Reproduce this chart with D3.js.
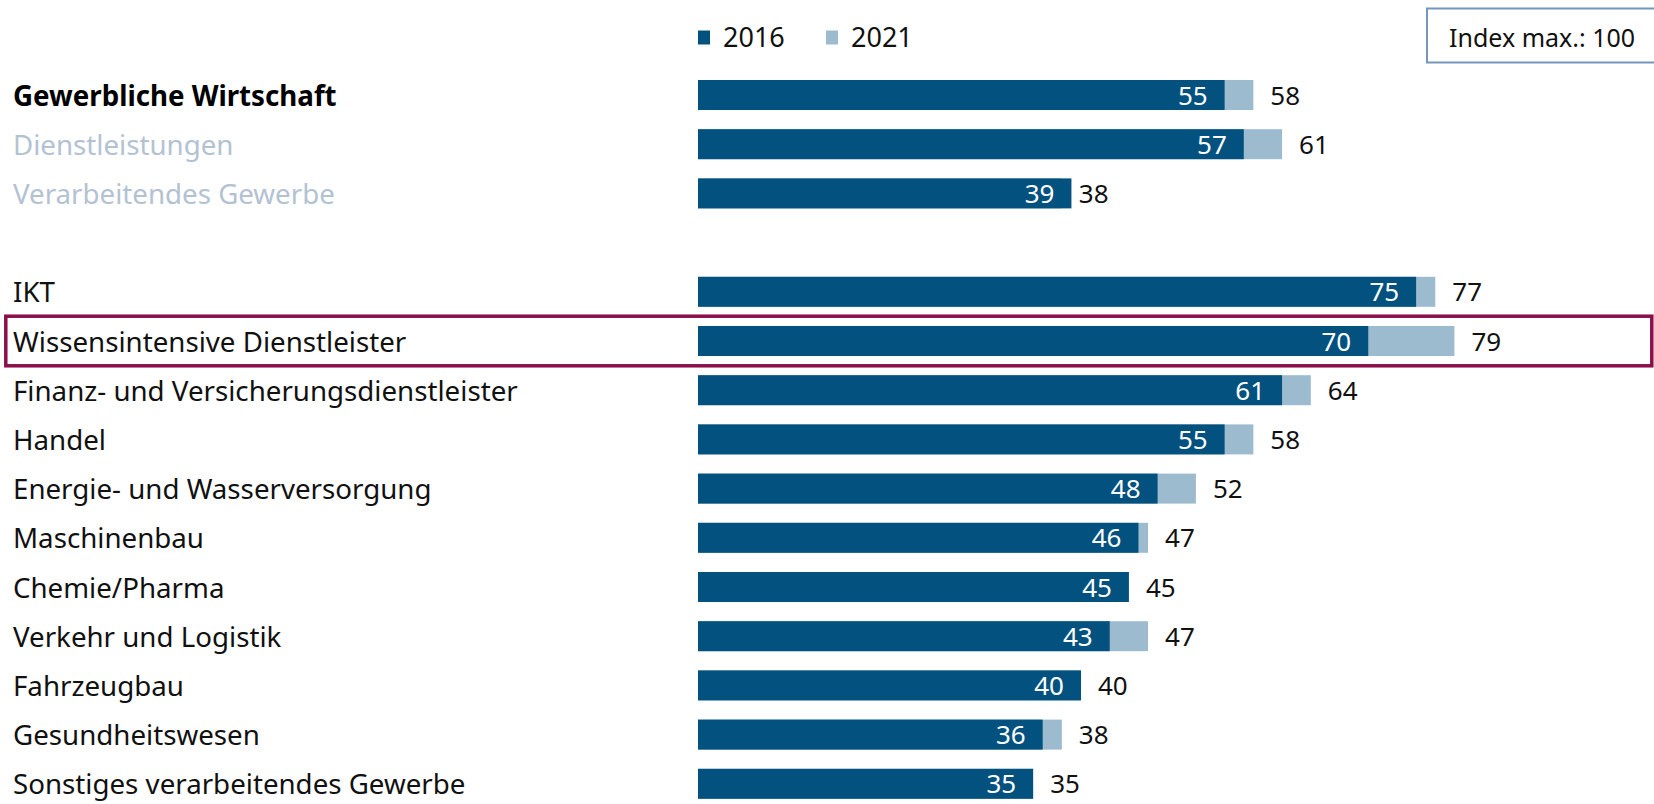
<!DOCTYPE html>
<html lang="de">
<head>
    <meta charset="UTF-8">
    <title>Index 2016 / 2021</title>
    <script src="https://d3js.org/d3.v7.min.js"></script>
    <style>
        body {
            margin: 0;
            background: #fff;
            font-family: "Noto Sans", sans-serif;
        }
        svg { display: block; }
        .row-label { font-size: 27.7px; }
        .val-in { font-size: 26px; fill: #fff; text-anchor: end; }
        .val-out { font-size: 26px; fill: #111; }
        .legend text { font-size: 27px; fill: #111; }
    </style>
</head>
<body>
<div id="chart"></div>
<script>
    const width = 1654;
    const height = 804;

    // Daten
    const categories = [
        "Gewerbliche Wirtschaft", "Dienstleistungen", "Verarbeitendes Gewerbe", "",
        "IKT", "Wissensintensive Dienstleister", "Finanz- und Versicherungsdienstleister",
        "Handel", "Energie- und Wasserversorgung", "Maschinenbau", "Chemie/Pharma",
        "Verkehr und Logistik", "Fahrzeugbau", "Gesundheitswesen",
        "Sonstiges verarbeitendes Gewerbe"
    ];
    const values2016 = [55, 57, 39, null, 75, 70, 61, 55, 48, 46, 45, 43, 40, 36, 35];
    const values2021 = [58, 61, 38, null, 77, 79, 64, 58, 52, 47, 45, 47, 40, 38, 35];
    const seriesNames = ["2016", "2021"];
    const highlighted = "Wissensintensive Dienstleister";
    const indexNote = "Index max.: 100";

    const colDark = "#03517f";
    const colLight = "#9dbbcf";

    const svg = d3.select("#chart").append("svg")
        .attr("width", width)
        .attr("height", height);

    const slots = categories.map((c, i) => "s" + i);
    const y = d3.scaleBand()
        .domain(slots)
        .range([70.4, 70.4 + 49.2 * slots.length])
        .padding(0);

    const x = d3.scaleLinear()
        .domain([0, 100])
        .range([698, 698 + 957.5]);

    const rows = categories.map((c, i) => ({
        name: c, slot: slots[i], v16: values2016[i], v21: values2021[i], i
    })).filter(d => d.name !== "");

    const barH = 30;
    const cy = d => y(d.slot) + y.bandwidth() / 2;

    // Markierung
    const hl = rows.find(d => d.name === highlighted);
    svg.append("rect")
        .attr("x", 5.8)
        .attr("y", cy(hl) - 24.8)
        .attr("width", 1646)
        .attr("height", 49.6)
        .attr("fill", "none")
        .attr("stroke", "#8a0f4b")
        .attr("stroke-width", 3.5);

    // Beschriftungen
    svg.append("g").selectAll("text")
        .data(rows)
        .join("text")
        .attr("class", "row-label")
        .attr("x", 13)
        .attr("y", d => cy(d) + 10.5)
        .attr("font-weight", d => d.i === 0 ? "bold" : null)
        .attr("fill", d => d.i === 0 ? "#000" : (d.i < 3 ? "#b3c2d3" : "#111"))
        .text(d => d.name);

    // Balken 2021 (hinten)
    svg.append("g").selectAll("rect")
        .data(rows)
        .join("rect")
        .attr("x", x(0))
        .attr("y", d => cy(d) - barH / 2)
        .attr("width", d => x(d.v21) - x(0))
        .attr("height", barH)
        .attr("fill", colLight);

    // Balken 2016
    svg.append("g").selectAll("rect")
        .data(rows)
        .join("rect")
        .attr("x", x(0))
        .attr("y", d => cy(d) - barH / 2)
        .attr("width", d => x(d.v16) - x(0))
        .attr("height", barH)
        .attr("fill", colDark);

    svg.append("g").selectAll("text")
        .data(rows)
        .join("text")
        .attr("class", "val-in")
        .attr("x", d => x(d.v16) - 17)
        .attr("y", d => cy(d) + 9.5)
        .text(d => d.v16);

    svg.append("g").selectAll("text")
        .data(rows)
        .join("text")
        .attr("class", "val-out")
        .attr("x", d => x(d.v21) + 17)
        .attr("y", d => cy(d) + 9.5)
        .text(d => d.v21);

    // Legende
    const legend = svg.append("g").attr("class", "legend");
    const legX = [698, 826];
    seriesNames.forEach((s, i) => {
        legend.append("rect")
            .attr("x", legX[i])
            .attr("y", 30.5)
            .attr("width", 12)
            .attr("height", 14)
            .attr("fill", i === 0 ? colDark : colLight);
        legend.append("text")
            .attr("x", legX[i] + 25)
            .attr("y", 46.5)
            .text(s);
    });

    // Hinweis-Box
    svg.append("rect")
        .attr("x", 1427)
        .attr("y", 8.5)
        .attr("width", 240)
        .attr("height", 54)
        .attr("fill", "#fff")
        .attr("stroke", "#7496bb")
        .attr("stroke-width", 2);
    svg.append("text")
        .attr("x", 1449)
        .attr("y", 46.5)
        .attr("font-size", 25)
        .attr("fill", "#111")
        .text(indexNote);
</script>
</body>
</html>
